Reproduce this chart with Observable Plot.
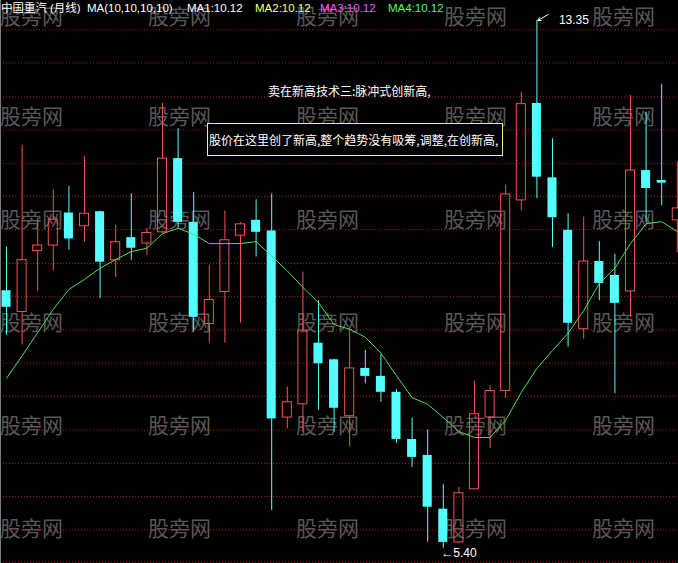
<!DOCTYPE html>
<html><head><meta charset="utf-8">
<script src="https://cdn.jsdelivr.net/npm/d3@7"></script>
<script src="https://cdn.jsdelivr.net/npm/@observablehq/plot@0.6"></script>
<style>
html,body{margin:0;padding:0;background:#000;overflow:hidden}
#wrap{position:relative;width:678px;height:563px;background:#000;overflow:hidden}
#wm,#chart,#over{position:absolute;left:0;top:0;width:678px;height:563px}
.wm{position:absolute;font:21px/21px "Noto Sans CJK SC";color:#585858;white-space:nowrap}
#chart svg{display:block}
.t{position:absolute;top:1px;font:11.5px/15px "Liberation Sans","Noto Sans CJK SC";white-space:pre}
#edge{position:absolute;left:0;top:0;width:1px;height:563px;background:#7a7a7a}
#ann1{position:absolute;left:268px;top:84px;font:12px/14px "Noto Sans CJK SC";color:#fff;white-space:nowrap}
#ann2{position:absolute;left:207px;top:123px;width:293px;height:31px;border:1px solid #f0f07a;background:#000;
  font:12px/31px "Noto Sans CJK SC";color:#fff;white-space:nowrap;padding-left:1px;box-sizing:content-box}
</style></head>
<body><div id="wrap"><div id="wm"></div><div id="chart"></div><div id="over"><div id="edge"></div></div></div>
<script>
// monthly candles (index 0..43)
const open  = [9.28, 8.96, 9.88, 9.96, 10.45, 10.25, 10.47, 9.74, 10.08, 9.99, 10.16, 11.27, 10.31, 8.78, 9.26, 10.11, 10.34, 10.18, 7.37, 7.57, 8.49, 8.24, 7.39, 8.11, 7.99, 7.75, 7.04, 6.80, 5.99, 5.49, 6.29, 7.37, 7.77, 10.64, 12.10, 10.98, 10.19, 8.70, 9.72, 9.51, 9.27, 11.09, 10.94, 10.34];
const close = [9.03, 9.74, 9.96, 10.35, 10.06, 10.44, 9.71, 10.01, 9.92, 10.15, 11.27, 10.31, 8.88, 9.14, 10.04, 10.28, 10.16, 7.35, 7.60, 8.68, 8.18, 7.51, 8.11, 7.99, 7.75, 7.04, 6.77, 6.02, 5.49, 6.23, 7.42, 7.77, 10.73, 12.09, 10.99, 10.38, 8.79, 9.72, 9.39, 9.09, 11.09, 10.82, 10.90, 10.52];
const high  = [9.94, 11.47, 10.37, 10.80, 10.85, 11.30, 10.48, 10.26, 10.74, 10.22, 12.10, 11.72, 10.76, 9.66, 10.48, 10.31, 10.65, 10.74, 7.83, 9.56, 9.13, 8.25, 8.70, 8.38, 8.32, 7.79, 7.36, 7.18, 6.36, 6.32, 7.92, 7.85, 10.87, 12.27, 13.35, 11.57, 10.44, 10.39, 10.02, 9.83, 12.22, 11.97, 12.39, 11.22];
const low   = [8.61, 8.46, 9.27, 9.58, 9.89, 10.01, 9.16, 9.48, 9.74, 9.81, 10.14, 10.22, 8.66, 8.49, 8.49, 8.79, 9.79, 5.97, 7.20, 7.15, 7.48, 7.15, 6.93, 7.88, 7.60, 6.98, 6.62, 5.49, 5.40, 5.47, 6.28, 6.90, 7.66, 10.49, 10.67, 9.93, 8.43, 8.55, 9.13, 7.73, 8.88, 10.31, 10.56, 9.85];
const ma10  = [7.96, 8.30, 8.65, 9.00, 9.30, 9.45, 9.62, 9.75, 9.87, 9.92, 10.14, 10.22, 10.13, 9.99, 9.99, 9.99, 10.02, 9.80, 9.58, 9.33, 9.10, 8.77, 8.70, 8.58, 8.34, 8.00, 7.67, 7.57, 7.37, 7.16, 7.07, 7.07, 7.33, 7.75, 8.11, 8.38, 8.64, 8.98, 9.39, 9.62, 9.99, 10.29, 10.32, 10.17];
const gridPrices = [13.21, 12.71, 12.20, 11.70, 11.20, 10.70, 10.20, 9.69, 9.19, 8.69, 8.19, 7.69, 7.18, 6.68, 6.18, 5.68, 5.19];
const legendTexts = ["中国重汽", "(月线)", "MA(10,10,10,10)", "MA1:10.12", "MA2:10.12", "MA3:10.12", "MA4:10.12"];
const note1 = "卖在新高技术三:脉冲式创新高,";
const note2 = "股价在这里创了新高,整个趋势没有吸筹,调整,在创新高,";
const watermark = "股旁网";

const RED = "#f05454", CYAN = "#54ffff", GREEN = "#50e050";
const FONT = "Liberation Sans, Noto Sans CJK SC";

// watermark tiling (decoration)
const wm = document.getElementById("wm");
for (let r = 0; r < 6; r++) for (let c = 0; c < 5; c++) {
  const s = document.createElement("div");
  s.className = "wm"; s.textContent = watermark;
  s.style.left = (c * 148) + "px"; s.style.top = (r === 0 ? 5 : r * 103 + 2) + "px";
  wm.appendChild(s);
}

const idx = d3.range(open.length);
const up = idx.filter(i => close[i] >= open[i]);
const down = idx.filter(i => close[i] < open[i]);
const hw = 0.29;
const hi = d3.maxIndex(high), lo = d3.minIndex(low);

const chart = Plot.plot({
  width: 678, height: 563, margin: 0,
  x: {domain: [-0.3846, 43.077], axis: null},
  y: {domain: [5.172, 13.651], axis: null},
  style: {background: "transparent"},
  marks: [
    Plot.ruleY(gridPrices, {stroke: "#a81e1e", strokeDasharray: "1,2"}),
    // down candles (filled cyan)
    Plot.ruleX(down, {x: i => i, y1: i => low[i], y2: i => high[i], stroke: CYAN}),
    Plot.rect(down, {x1: i => i - hw, x2: i => i + hw, y1: i => open[i], y2: i => close[i], fill: CYAN}),
    // up candles (hollow red)
    Plot.ruleX(up, {x: i => i, y1: i => close[i], y2: i => high[i], stroke: RED}),
    Plot.ruleX(up, {x: i => i, y1: i => low[i], y2: i => open[i], stroke: RED}),
    Plot.rect(up, {x1: i => i - hw, x2: i => i + hw, y1: i => open[i], y2: i => close[i], fill: "none", stroke: RED}),
    // MA10
    Plot.line(idx, {x: i => i, y: i => ma10[i], stroke: GREEN, strokeWidth: 1}),
    // high / low labels
    Plot.arrow([hi], {x1: i => i + 0.72, y1: i => high[i] + 0.09, x2: i => i + 0.06, y2: i => high[i], stroke: "white", strokeWidth: 1, headLength: 5}),
    Plot.text([hi], {x: i => i, y: i => high[i], text: i => high[i].toFixed(2), dx: 22, textAnchor: "start", fill: "white", fontSize: 12, fontFamily: FONT}),
    Plot.text([lo], {x: i => i, y: i => low[i], text: i => "←" + low[i].toFixed(2), dx: -2, dy: 5, textAnchor: "start", fill: "white", fontSize: 12, fontFamily: FONT})
  ]
});
document.getElementById("chart").appendChild(chart);

// legend line
const over = document.getElementById("over");
const lefts = [1, 50, 87, 187, 255, 320, 388];
const cols = ["#fff", "#fff", "#fff", "#fff", "#ffff80", "#ff50ff", "#50ff50"];
legendTexts.forEach((t, k) => {
  const s = document.createElement("div");
  s.className = "t"; s.textContent = t;
  s.style.left = lefts[k] + "px"; s.style.color = cols[k];
  over.appendChild(s);
});
const a1 = document.createElement("div"); a1.id = "ann1"; a1.textContent = note1; over.appendChild(a1);
const a2 = document.createElement("div"); a2.id = "ann2"; a2.textContent = note2; over.appendChild(a2);
</script>
</body></html>
